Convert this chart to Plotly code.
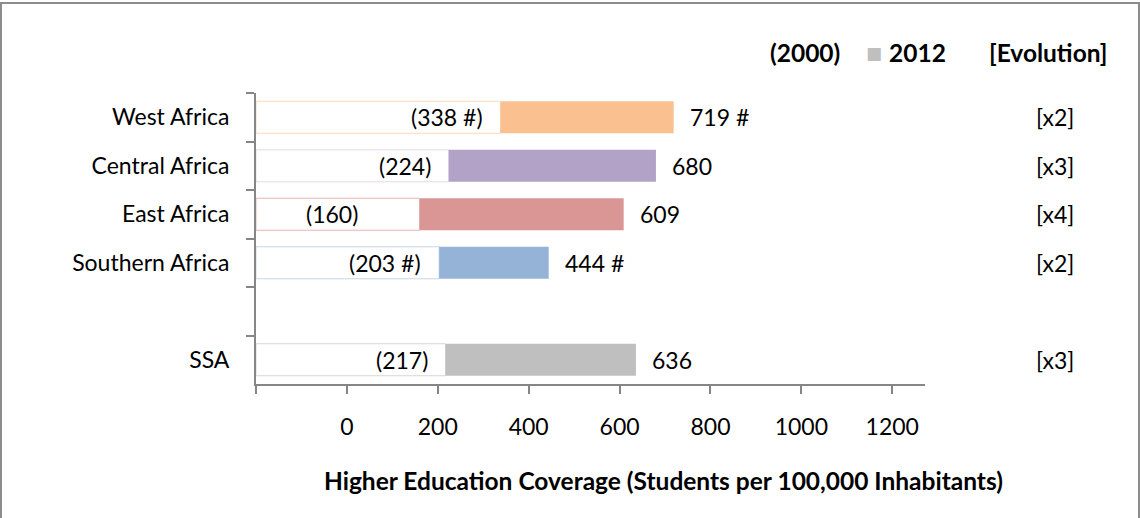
import plotly.graph_objects as go

# ---------------- data ----------------
regions = ["West Africa", "Central Africa", "East Africa", "Southern Africa", " ", "SSA"]
bar_regions = ["West Africa", "Central Africa", "East Africa", "Southern Africa", "SSA"]
values_2000 = [338, 224, 160, 203, 217]
values_2012 = [719, 680, 609, 444, 636]
labels_2000 = ["(338 #)", "(224)", "(160)", "(203 #)", "(217)"]
labels_2012 = ["719 #", "680", "609", "444 #", "636"]
evolution = ["[x2]", "[x3]", "[x4]", "[x2]", "[x3]"]
x_tickvals = [-200, 0, 200, 400, 600, 800, 1000, 1200]
x_ticktext = ["", "0", "200", "400", "600", "800", "1000", "1200"]

# ---------------- style ----------------
colors = ["#FAC090", "#B3A2C7", "#D99694", "#95B3D7", "#BFBFBF"]
edge_colors = ["#FBD9BC", "#E2DAEB", "#E6B5B3", "#C7D6EA", "#D6D6D6"]
label_shift_2000 = [-16, -16, -60, -16, -16]
FONT = "Lato"
FS = 23
FSB = 24.5
W, H = 1140, 518
ML, MR, MT, MB = 256, 215, 93, 134
x_min, x_max = -200, 1272
axis_grey = "#868686"

PW, PH = W - ML - MR, H - MT - MB


def px2x(px):
    return (px - ML) / PW


def py2y(py):
    return 1 - (py - MT) / PH


fig = go.Figure()

# white (2000) part, from axis start to the 2000 value
fig.add_trace(go.Bar(
    y=bar_regions,
    x=[v - x_min for v in values_2000],
    base=x_min,
    orientation="h",
    marker=dict(color="white", line=dict(color=edge_colors, width=1)),
    showlegend=False,
    hoverinfo="skip",
))
# coloured (2000 -> 2012) part
fig.add_trace(go.Bar(
    y=bar_regions,
    x=[b - a for a, b in zip(values_2000, values_2012)],
    base=values_2000,
    orientation="h",
    marker=dict(color=colors, line=dict(width=0)),
    showlegend=False,
))

annotations = []
for r, v0, v1, l0, l1, ev, sh in zip(bar_regions, values_2000, values_2012,
                                      labels_2000, labels_2012, evolution, label_shift_2000):
    annotations.append(dict(x=v0, y=r, xref="x", yref="y", text=l0, showarrow=False,
                            xanchor="right", xshift=sh, font=dict(family=FONT, size=FS, color="black")))
    annotations.append(dict(x=v1, y=r, xref="x", yref="y", text=l1, showarrow=False,
                            xanchor="left", xshift=14, font=dict(family=FONT, size=FS, color="black")))
    annotations.append(dict(x=px2x(1055), y=r, xref="paper", yref="y", text=ev, showarrow=False,
                            xanchor="center", font=dict(family=FONT, size=FS, color="black")))

# header / legend-like texts
annotations.append(dict(x=px2x(805), y=py2y(52), xref="paper", yref="paper", text="<b>(2000)</b>",
                        showarrow=False, xanchor="center", yanchor="middle",
                        font=dict(family=FONT, size=FSB, color="black")))
annotations.append(dict(x=px2x(874), y=py2y(53), xref="paper", yref="paper",
                        text="■", showarrow=False, xanchor="center", yanchor="middle",
                        font=dict(family="DejaVu Sans", size=17, color="#BFBFBF")))
annotations.append(dict(x=px2x(887), y=py2y(52), xref="paper", yref="paper", text="<b>2012</b>",
                        showarrow=False, xanchor="left", yanchor="middle",
                        font=dict(family=FONT, size=FSB, color="black")))
annotations.append(dict(x=px2x(1048), y=py2y(52), xref="paper", yref="paper", text="<b>[Evolution]</b>",
                        showarrow=False, xanchor="center", yanchor="middle",
                        font=dict(family=FONT, size=FSB, color="black")))
# x-axis title
annotations.append(dict(x=px2x(663), y=py2y(480), xref="paper", yref="paper",
                        text="<b>Higher Education Coverage (Students per 100,000 Inhabitants)</b>",
                        showarrow=False, xanchor="center", yanchor="middle",
                        font=dict(family=FONT, size=FSB, color="black")))

shapes = [dict(type="rect", xref="paper", yref="paper",
               x0=px2x(1), x1=px2x(1139), y0=py2y(519), y1=py2y(3),
               line=dict(color="#8C8C8C", width=2), fillcolor="rgba(0,0,0,0)", layer="below")]

fig.update_layout(
    width=W, height=H,
    margin=dict(l=ML, r=MR, t=MT, b=MB, pad=0),
    paper_bgcolor="white", plot_bgcolor="white",
    barmode="overlay", bargap=0.34,
    font=dict(family=FONT, size=FS, color="black"),
    annotations=annotations,
    shapes=shapes,
    xaxis=dict(range=[x_min, x_max], tickvals=x_tickvals, ticktext=x_ticktext,
               showgrid=False, zeroline=False, showline=True, linecolor=axis_grey, linewidth=2,
               ticks="outside", ticklen=8, tickwidth=2, tickcolor=axis_grey,
               ticklabelstandoff=13, tickfont=dict(family=FONT, size=FS, color="black")),
    yaxis=dict(type="category", categoryorder="array", categoryarray=regions,
               range=[len(regions) - 0.5, -0.5],
               showgrid=False, zeroline=False, showline=True, linecolor=axis_grey, linewidth=2,
               ticks="outside", ticklen=8, tickwidth=2, tickcolor=axis_grey, tickson="boundaries",
               ticklabelstandoff=20, tickfont=dict(family=FONT, size=FS, color="black")),
)

fig.write_html("out.html", config={"displayModeBar": False},
               post_script="document.body.style.margin='0';document.body.style.overflow='hidden';")
